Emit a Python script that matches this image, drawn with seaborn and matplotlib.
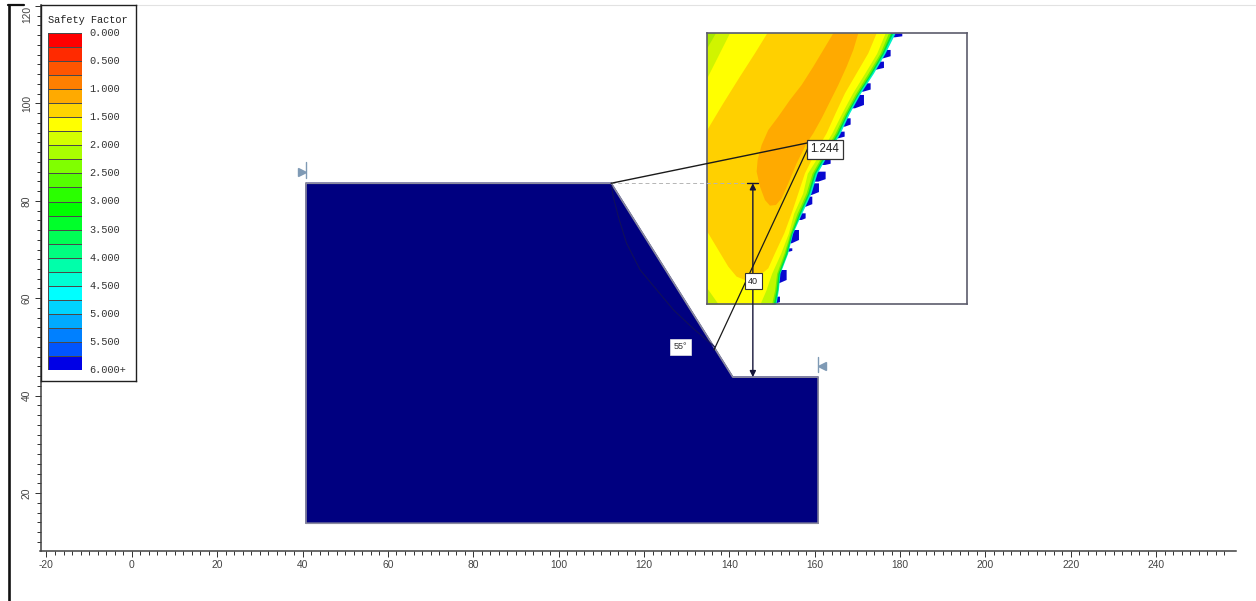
import numpy as np
import matplotlib.pyplot as plt
import seaborn as sns
from matplotlib.colors import ListedColormap
from matplotlib.lines import Line2D

W, H = 1256, 601

# slope model (x, y in model units)
model_x = [40.8, 112.3, 140.8, 160.8, 160.8, 40.8, 40.8]
model_y = [83.6, 83.6, 43.8, 43.8, 13.8, 13.8, 83.6]
slip_x = [112.4, 112.8, 114.0, 115.9, 119.1, 123.0, 126.9, 131.5, 136.6]
slip_y = [83.2, 80.8, 76.7, 71.3, 65.8, 61.7, 57.6, 53.8, 50.0]
crest = (112.3, 83.6)
toe_y = 43.8
dim_x = 145.5
fs_label = "1.244"
height_label = "40"
angle_label = "55°"

# legend
legend_title = "Safety Factor"
legend_labels = ["0.000", "0.500", "1.000", "1.500", "2.000", "2.500", "3.000",
                 "3.500", "4.000", "4.500", "5.000", "5.500", "6.000+"]
band_values = [0.00, 0.25, 0.50, 0.75, 1.00, 1.25, 1.50, 1.75, 2.00, 2.25, 2.50, 2.75,
               3.00, 3.25, 3.50, 3.75, 4.00, 4.25, 4.50, 4.75, 5.00, 5.25, 5.50, 5.75]
band_colors = ["#ff0000", "#ff2a00", "#ff5500", "#ff7f00", "#ffaa00", "#ffd400",
               "#ffff00", "#d4ff00", "#aaff00", "#80ff00", "#55ff00", "#2aff00",
               "#00ff00", "#00ff2a", "#00ff55", "#00ff80", "#00ffaa", "#00ffd4",
               "#00ffff", "#00d4ff", "#00aaff", "#0080ff", "#0055ff", "#0000e6"]

# contour detail of the inset, read row by row
rows = [40, 100, 160, 220, 280, 340, 400, 460, 520, 580, 640, 700, 760, 810, 852]
cyan_edge = [615, 585, 550, 511, 478, 450, 415, 381, 363, 335, 308, 293, 270, 265, 258]
green_edge = [608, 580, 545, 506, 473, 445, 410, 376, 358, 331, 306, 291, 268, 263, 255]
chart_edge = [602, 575, 540, 502, 469, 440, 405, 371, 353, 326, 303, 286, 264, 258, 250]
lime_edge = [595, 570, 534, 497, 464, 435, 400, 366, 348, 321, 300, 282, 260, 254, 245]
yellow_edge = [585, 560, 524, 487, 455, 425, 390, 352, 338, 311, 295, 272, 245, 228, 210]

gold_x = [232, 560, 535, 500, 465, 437, 410, 375, 345, 325, 305, 283, 255, 235, 205, 170,
          140, 115, 85, 52, 52, 100, 150, 195]
gold_y = [40, 40, 100, 160, 220, 280, 340, 400, 460, 520, 580, 640, 700, 745, 770, 782,
          770, 740, 690, 635, 330, 250, 170, 100]
orange_x = [430, 505, 490, 470, 445, 420, 395, 370, 350, 320, 295, 275, 258, 240, 225, 210,
            200, 203, 215, 235, 265, 300, 335, 370, 400]
orange_y = [40, 40, 90, 140, 195, 245, 295, 340, 370, 430, 490, 535, 555, 557, 540, 500,
            455, 420, 375, 330, 290, 240, 195, 140, 90]
wedge_top_x = [52, 120, 52]
wedge_top_y = [40, 40, 175]
wedge_corner_x = [52, 78, 52]
wedge_corner_y = [40, 40, 85]
wedge_low_x = [52, 85, 52]
wedge_low_y = [805, 852, 852]

tooth_top = [40, 90, 125, 190, 225, 295, 335, 420, 455, 490, 530, 580, 630, 685, 750, 830]
tooth_bottom = [52, 115, 150, 215, 265, 320, 355, 435, 485, 525, 560, 600, 670, 695, 790, 852]
tooth_left = [615, 580, 555, 520, 495, 465, 445, 405, 385, 365, 348, 335, 305, 298, 267, 250]
tooth_right = [635, 600, 580, 540, 520, 480, 462, 420, 405, 385, 365, 345, 325, 305, 288, 268]


def px_rect(left, top, right, bottom):
    return [left / W, 1 - bottom / H, (right - left) / W, (bottom - top) / H]


sns.set_theme(style="white")
plt.rcParams["font.family"] = ["Liberation Sans", "DejaVu Sans"]
plt.rcParams["axes.unicode_minus"] = False

fig = plt.figure(figsize=(W / 100, H / 100), dpi=100, facecolor="white")

# main axes
ax = fig.add_axes(px_rect(40.5, 5, 1236, 551), zorder=2)
ax.patch.set_visible(False)
ax.set_xlim(-21.4, 258.7)
ax.set_ylim(8.1, 120.2)
for side in ["top", "right"]:
    ax.spines[side].set_visible(False)
for side in ["left", "bottom"]:
    ax.spines[side].set_color("#404040")
    ax.spines[side].set_linewidth(1.1)

ax.set_xticks(np.arange(-20, 241, 20))
ax.set_xticks(np.arange(-20, 257, 2), minor=True)
ax.set_yticks(np.arange(20, 121, 20))
ax.set_yticks(np.arange(10, 121, 2), minor=True)
ax.tick_params(axis="both", which="major", length=4.2, width=0.7, color="#303030",
               labelsize=7.4, labelcolor="#444444", pad=2, bottom=True, left=True)
ax.tick_params(axis="both", which="minor", length=1.0, width=0.7, color="#303030",
               bottom=True, left=True)
for t in ax.xaxis.get_minor_ticks():
    if round(t.get_loc()) % 10 == 0:
        t.tick1line.set_markersize(2.6)
for t in ax.yaxis.get_minor_ticks():
    if round(t.get_loc()) % 10 == 0:
        t.tick1line.set_markersize(2.6)
for lab in ax.get_yticklabels():
    lab.set_rotation(90)
    lab.set_va("center")
# the top label would run off the picture if centred on its tick
ax.get_yticklabels()[-1].set_va("top")

ax.fill(model_x, model_y, color="#000080", zorder=2)
ax.plot(model_x, model_y, color="#8a8a9e", lw=1.2, zorder=3)
ax.plot(slip_x, slip_y, color="#10105a", lw=0.8, zorder=4)

# support markers at both ends of the model
ax.plot([model_x[0]] * 2, [84.7, 88.0], color="#7f9ab5", lw=1, zorder=3)
ax.plot([model_x[3]] * 2, [44.8, 47.9], color="#7f9ab5", lw=1, zorder=3)
ax.plot(39.9, 85.9, marker=">", ms=5.5, color="#7f9ab5", zorder=3)
ax.plot(161.7, 46.0, marker="<", ms=5.5, color="#7f9ab5", zorder=3)

# callouts
ax.plot([crest[0], dim_x + 1], [crest[1], crest[1]], color="#b5b5b5", lw=0.7,
        ls=(0, (4, 3)), zorder=5)
ax.plot([crest[0], 158.4], [crest[1], 91.9], color="#1a1a1a", lw=1, zorder=5)
ax.plot([136.4, 158.4], [49.4, 90.8], color="#1a1a1a", lw=0.9, zorder=5)
ax.annotate("", xy=(dim_x, crest[1]), xytext=(dim_x, toe_y),
            arrowprops=dict(arrowstyle="<|-|>", color="#15153a", lw=1, shrinkA=0, shrinkB=0,
                            mutation_scale=9), zorder=5)
ax.plot([dim_x - 1.3, dim_x + 1.3], [crest[1], crest[1]], color="#15153a", lw=1, zorder=5)
ax.text(162.4, 90.6, fs_label, fontsize=8.3, color="#222222", ha="center", va="center", zorder=6,
        bbox=dict(boxstyle="square,pad=0.3", fc="white", ec="#333333", lw=0.9))
ax.text(145.6, 63.5, height_label, fontsize=6.5, color="#222222", ha="center", va="center", zorder=6,
        bbox=dict(boxstyle="square,pad=0.4", fc="white", ec="#333333", lw=0.8))
ax.text(128.6, 50.0, angle_label, fontsize=6.5, color="#333333", ha="center", va="center", zorder=6,
        bbox=dict(boxstyle="square,pad=0.4", fc="white", ec="#e5e5e5", lw=0.5))

# inset with safety factor contours
ins = fig.add_axes(px_rect(707.3, 33.3, 967.3, 304), zorder=1)
ins.set_xlim(52, 832)
ins.set_ylim(852, 40)
ins.set_xticks([])
ins.set_yticks([])
for s in ins.spines.values():
    s.set_color("#5c5c6c")
    s.set_linewidth(1.2)
for top, bottom, left, right in zip(tooth_top, tooth_bottom, tooth_left, tooth_right):
    h = bottom - top
    ins.fill([right + 2, right + 2, left, left - 14, left - 14],
             [top, top + 0.75 * h, bottom, bottom, top], color="#0808d0", lw=0)
ins.fill_betweenx(rows, 52, cyan_edge, color="#00f0c8", lw=0)
ins.fill_betweenx(rows, 52, green_edge, color="#00e040", lw=0)
ins.fill_betweenx(rows, 52, chart_edge, color="#70f000", lw=0)
ins.fill_betweenx(rows, 52, lime_edge, color="#c0f800", lw=0)
ins.fill_betweenx(rows, 52, yellow_edge, color="#ffff00", lw=0)
ins.fill(gold_x, gold_y, color="#ffd000", lw=0)
ins.fill(orange_x, orange_y, color="#ffaa00", lw=0)
ins.fill(wedge_top_x, wedge_top_y, color="#d0f400", lw=0)
ins.fill(wedge_corner_x, wedge_corner_y, color="#a8e800", lw=0)
ins.fill(wedge_low_x, wedge_low_y, color="#c8f000", lw=0)

# legend panel
panel = fig.add_axes(px_rect(40.5, 5, 136, 381), zorder=3)
panel.set_xticks([])
panel.set_yticks([])
panel.set_facecolor("white")
for s in panel.spines.values():
    s.set_color("#202020")
    s.set_linewidth(1)

bar = fig.add_axes(px_rect(48, 33, 82, 370), zorder=4)
sns.heatmap(np.array(band_values).reshape(-1, 1), ax=bar, cmap=ListedColormap(band_colors),
            vmin=0, vmax=6, cbar=False, xticklabels=False, yticklabels=False,
            linewidths=0.6, linecolor="#4a4a4a")
for i, lab in enumerate(legend_labels):
    bar.text(1.22, i * 2, lab, fontsize=7.4, family="Liberation Mono", color="#333333",
             va="center", ha="left", clip_on=False)
bar.text(0, -0.95, legend_title, fontsize=7.4, family="Liberation Mono", color="#222222",
         va="center", ha="left", clip_on=False)

# window frame
fig.add_artist(Line2D([8.5 / W, 8.5 / W], [0, 1 - 5 / H], color="#111111", lw=1.9))
fig.add_artist(Line2D([8 / W, 24 / W], [1 - 5 / H, 1 - 5 / H], color="#111111", lw=1.6))
fig.add_artist(Line2D([136 / W, 1 - 0.001], [1 - 5 / H, 1 - 5 / H], color="#e2e2e2", lw=0.8))

fig.savefig("out.png", dpi=100)
